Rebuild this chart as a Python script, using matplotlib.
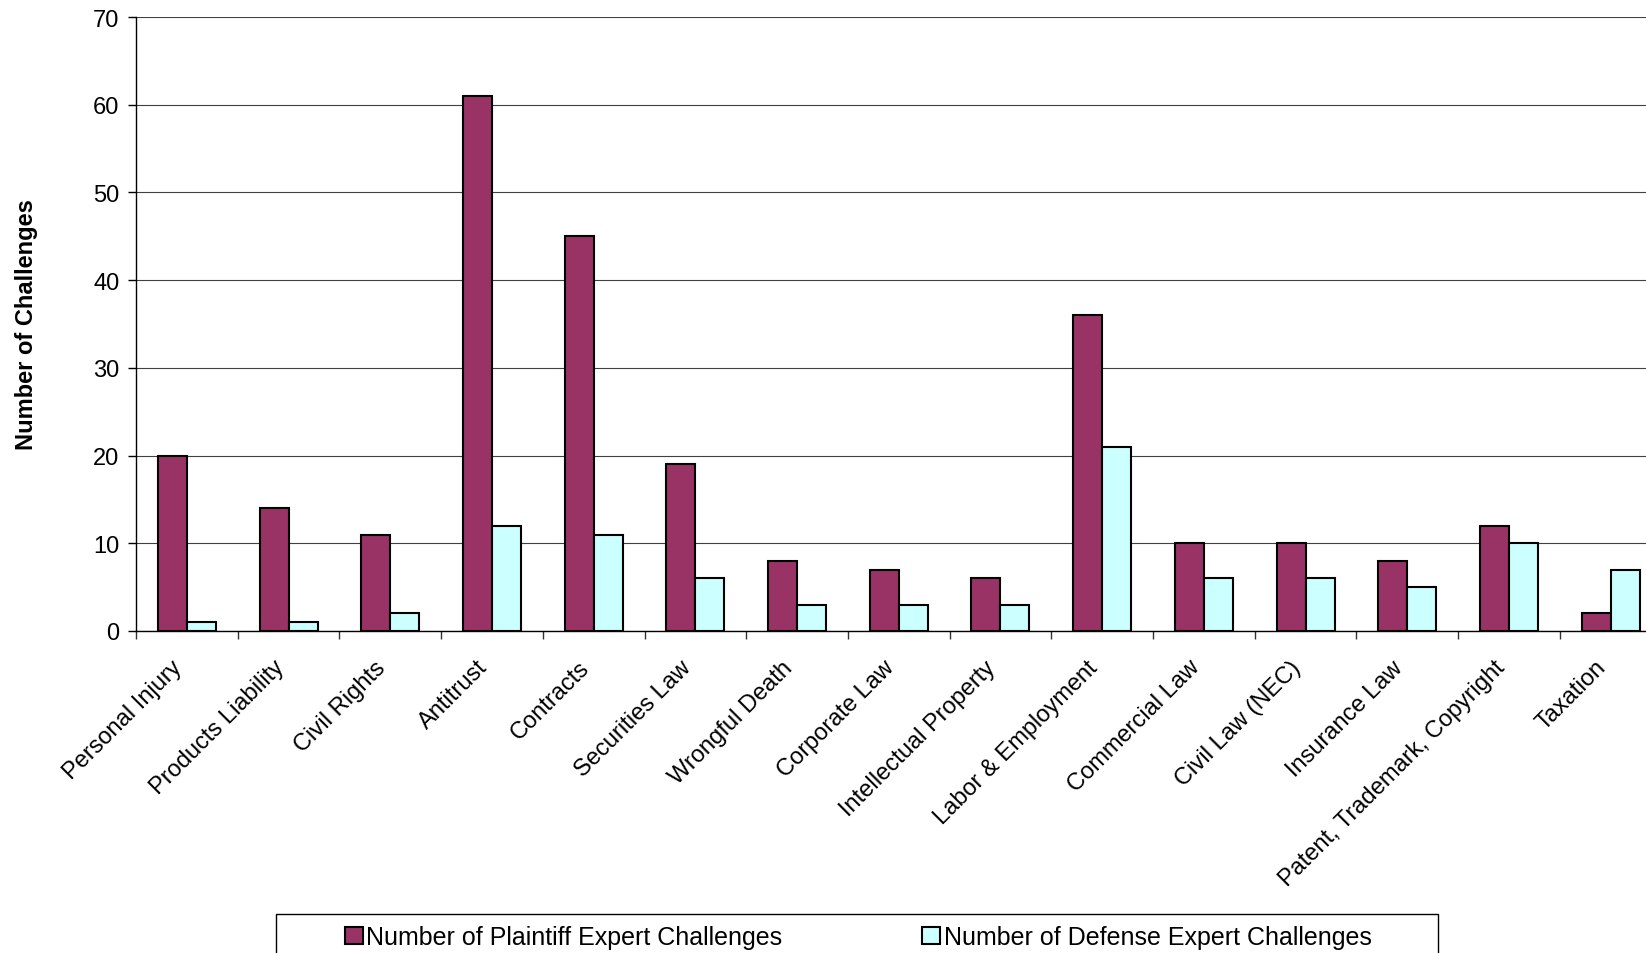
import matplotlib
matplotlib.use("Agg")
import matplotlib.pyplot as plt
from matplotlib.patches import Rectangle, Patch
import numpy as np

plt.rcParams['font.family'] = ['Liberation Sans', 'DejaVu Sans']

# dados
categorias = ["Personal Injury", "Products Liability", "Civil Rights", "Antitrust",
              "Contracts", "Securities Law", "Wrongful Death", "Corporate Law",
              "Intellectual Property", "Labor & Employment", "Commercial Law",
              "Civil Law (NEC)", "Insurance Law", "Patent, Trademark, Copyright",
              "Taxation"]
plaintiff = [20, 14, 11, 61, 45, 19, 8, 7, 6, 36, 10, 10, 8, 12, 2]
defense = [1, 1, 2, 12, 11, 6, 3, 3, 3, 21, 6, 6, 5, 10, 7]
y_ticks = [0, 10, 20, 30, 40, 50, 60, 70]

nome_plaintiff = "Number of Plaintiff Expert Challenges"
nome_defense = "Number of Defense Expert Challenges"
cor_plaintiff = "#993366"
cor_defense = "#CCFFFF"

W, H = 1646, 954
fig = plt.figure(figsize=(W / 100, H / 100), dpi=100)
ax = fig.add_axes([136 / W, 1 - 632 / H, 1525.5 / W, 614 / H])

x = np.arange(len(categorias))
largura = 0.285
ax.bar(x - largura / 2, plaintiff, largura, color=cor_plaintiff,
       edgecolor="black", linewidth=1.5, zorder=3)
ax.bar(x + largura / 2, defense, largura, color=cor_defense,
       edgecolor="black", linewidth=1.5, zorder=3)

ax.set_xlim(-0.5, len(categorias) - 0.5)
ax.set_ylim(0, 70)
ax.set_yticks(y_ticks)
ax.tick_params(axis="y", labelsize=17, length=6, width=1, pad=6, direction="out")

# ticks maiores nas divisões, rótulos nos centros
ax.set_xticks(np.arange(-0.5, len(categorias), 1.0))
ax.set_xticklabels([])
ax.set_xticks(x, minor=True)
ax.set_xticklabels(categorias, minor=True, rotation=45, ha="right", va="top",
                   fontsize=17)
ax.tick_params(axis="x", which="major", length=5.5, width=1, color="#333333")
ax.tick_params(axis="x", which="minor", length=0, pad=18)

ax.yaxis.grid(True, color="#404040", linewidth=0.8, zorder=0)
ax.set_axisbelow(True)
for s in ["top", "right"]:
    ax.spines[s].set_visible(False)
ax.spines["left"].set_linewidth(1)
ax.spines["bottom"].set_linewidth(1)

ax.set_ylabel("Number of Challenges", fontsize=17, fontweight="bold")
ax.yaxis.set_label_coords((38 - 136) / 1525.5, 0.5)

# legenda com moldura separada
fig.patches.append(Rectangle((276 / W, -0.05), (1438 - 276) / W, 0.05 + 1 - 915 / H,
                             transform=fig.transFigure, fill=False,
                             edgecolor="black", linewidth=1))
handles = [Patch(facecolor=cor_plaintiff, edgecolor="black", linewidth=1.5),
           Patch(facecolor=cor_defense, edgecolor="black", linewidth=1.5)]
fig.legend(handles, [nome_plaintiff, nome_defense], loc="center left",
           bbox_to_anchor=(345 / W, 1 - 938 / H), ncol=2, frameon=False,
           fontsize=18, handlelength=0.7, handleheight=0.7,
           handletextpad=0.15, columnspacing=5.6, borderpad=0, borderaxespad=0)

fig.savefig("out.png", dpi=100)
